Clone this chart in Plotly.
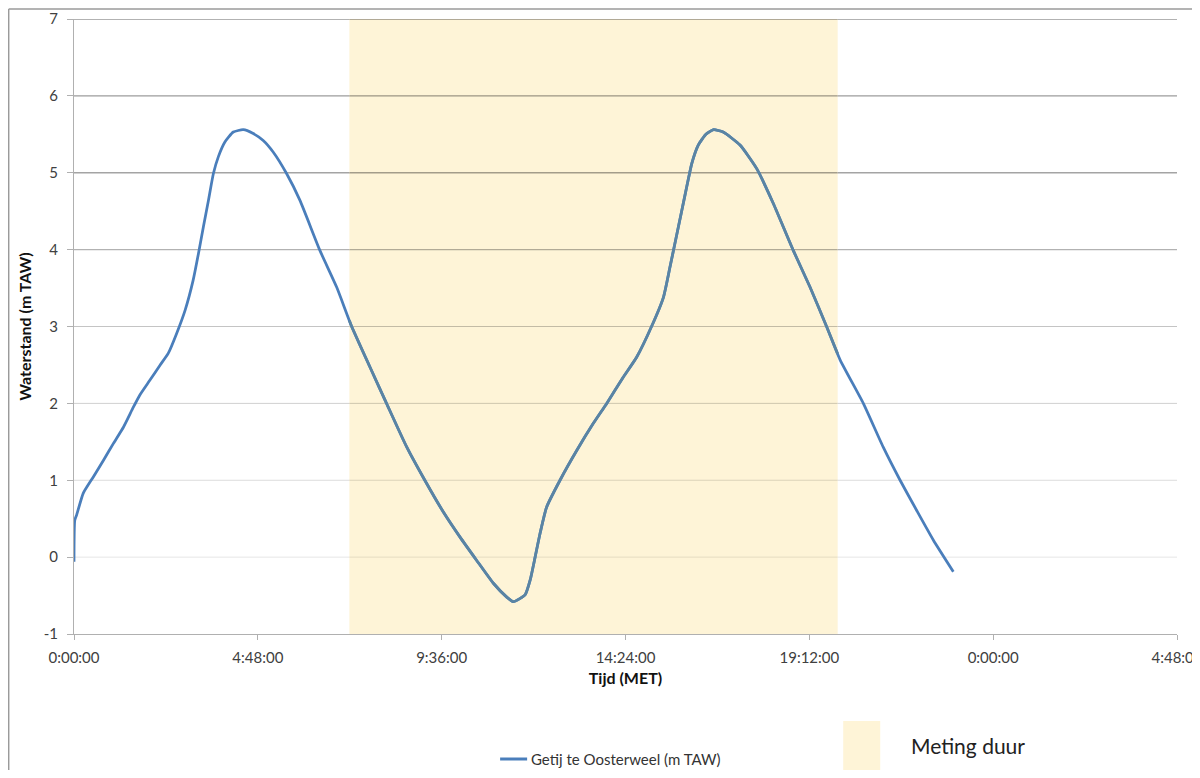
import plotly.graph_objects as go
import numpy as np

# ---------------- data ----------------
hours = [0.00, 0.02, 0.07, 0.24, 0.50, 0.77, 1.03, 1.29, 1.55, 1.72, 1.98, 2.25, 2.46, 2.68,
         2.90, 3.11, 3.25, 3.38, 3.51, 3.64, 3.77, 3.94, 4.16, 4.42, 4.68, 4.94, 5.20, 5.55,
         5.90, 6.42, 6.86, 7.25, 7.73, 8.16, 8.69, 9.16, 9.64, 10.08, 10.51, 10.95, 11.30,
         11.47, 11.64, 11.78, 11.91, 12.04, 12.17, 12.34, 12.69, 13.13, 13.56, 13.91, 14.34,
         14.69, 15.08, 15.39, 15.56, 15.69, 15.87, 16.00, 16.13, 16.30, 16.50, 16.70, 16.95,
         17.39, 17.83, 18.26, 18.78, 19.22, 19.65, 20.00, 20.61, 21.13, 21.57, 22.00, 22.44,
         22.96]
level = [-0.06, 0.48, 0.55, 0.83, 1.04, 1.26, 1.48, 1.69, 1.95, 2.11, 2.30, 2.50, 2.65, 2.91,
         3.21, 3.60, 3.95, 4.30, 4.64, 4.99, 5.21, 5.40, 5.53, 5.56, 5.51, 5.42, 5.27, 4.99,
         4.64, 3.99, 3.51, 3.00, 2.47, 2.00, 1.43, 1.00, 0.59, 0.26, -0.04, -0.34, -0.52,
         -0.58, -0.54, -0.49, -0.30, 0.00, 0.31, 0.65, 1.00, 1.39, 1.74, 2.00, 2.34,
         2.60, 3.00, 3.38, 3.77, 4.08, 4.51, 4.82, 5.12, 5.36, 5.50, 5.56, 5.53,
         5.36, 5.05, 4.60, 3.99, 3.51, 3.00, 2.57, 2.00, 1.43, 1.00, 0.61, 0.22,
         -0.19]
series_name = "Getij te Oosterweel (m TAW)"
meting_name = "Meting duur"
meting_start = 7.19   # hours
meting_end = 19.94    # hours

x_tickvals = [0, 4.8, 9.6, 14.4, 19.2, 24.0, 28.8]
x_ticktext = ["0:00:00", "4:48:00", "9:36:00", "14:24:00", "19:12:00", "0:00:00", "4:48:00"]
y_tickvals = [-1, 0, 1, 2, 3, 4, 5, 6, 7]
y_ticktext = [str(v) for v in y_tickvals]

x_title = "Tijd (MET)"
y_title = "Waterstand (m TAW)"

# ---------------- style ----------------
VW, VH = 1200, 778          # browser viewport
BODY = 8                    # default page margin around the plot div
W, H = VW - BODY, VH - 2 * BODY
PL, PR, PT, PB = 74, 1176.7, 19, 634   # plot area in viewport pixels
BLUE = "#4A7EBB"
BLUE_IN = "#5A84A3"
SHADE = "#FEF4D7"
AXIS = "#b0b0b0"
grid_colors = {0: "#e6e6e6", 1: "#dcdcdc", 2: "#d0d0d0", 3: "#c4c4c4",
               4: "#b2b2b2", 5: "#a4a4a4", 6: "#9c9c9c", 7: "#989898"}
FONT = "Lato"
LINE_SHAPE = dict(shape="spline", smoothing=0.5)
LEG_Y = 759


def px_x(px):
    return (px - PL) / (PR - PL)


def px_y(py):
    return (PB - py) / (PB - PT)


def tint(hexcol):
    h = hexcol.lstrip("#")
    r, g, b = (int(h[i:i + 2], 16) for i in (0, 2, 4))
    s = SHADE.lstrip("#")
    sr, sg, sb = (int(s[i:i + 2], 16) for i in (0, 2, 4))
    return "rgb(%d,%d,%d)" % (r * sr // 255, g * sg // 255, b * sb // 255)


fig = go.Figure()

# main line
fig.add_trace(go.Scatter(x=hours, y=level, mode="lines", name=series_name,
                         line=dict(color=BLUE, width=2.75, **LINE_SHAPE), showlegend=False))

# same line, portion inside the measurement window (drawn tinted)
xs_in = [meting_start] + [h for h in hours if meting_start < h < meting_end] + [meting_end]
ys_in = list(np.interp(xs_in, hours, level))
fig.add_trace(go.Scatter(x=xs_in, y=ys_in, mode="lines", showlegend=False, hoverinfo="skip",
                         line=dict(color=BLUE_IN, width=2.75, **LINE_SHAPE)))

shapes = []
# measurement window
shapes.append(dict(type="rect", xref="x", yref="y", x0=meting_start, x1=meting_end,
                   y0=-1, y1=7, fillcolor=SHADE, line=dict(width=0), layer="below"))
# grid lines
for v in y_tickvals[1:]:
    c = grid_colors[v]
    segs = [(0, meting_start, c), (meting_start, meting_end, tint(c)), (meting_end, 28.8, c)]
    for a, b, col in segs:
        shapes.append(dict(type="line", xref="x", yref="y", x0=a, x1=b, y0=v, y1=v,
                           line=dict(color=col, width=1.3 if v >= 4 else 1), layer="below"))
# outer frame
shapes.append(dict(type="line", xref="paper", yref="paper", x0=px_x(8.7), x1=px_x(1200),
                   y0=px_y(9), y1=px_y(9), line=dict(color="#9a9a9a", width=1.5)))
shapes.append(dict(type="line", xref="paper", yref="paper", x0=px_x(8.7), x1=px_x(8.7),
                   y0=px_y(9), y1=px_y(778), line=dict(color="#9a9a9a", width=1.5)))
# legend: line sample for the tide series
shapes.append(dict(type="line", xref="paper", yref="paper", x0=px_x(500), x1=px_x(527),
                   y0=px_y(LEG_Y), y1=px_y(LEG_Y), line=dict(color=BLUE, width=3)))
# legend swatch for measurement window
shapes.append(dict(type="rect", xref="paper", yref="paper", x0=px_x(843), x1=px_x(880),
                   y0=px_y(775), y1=px_y(721), fillcolor=SHADE, line=dict(width=0)))

fig.update_layout(
    width=W, height=H, autosize=False,
    margin=dict(l=PL - BODY, r=VW - PR, t=PT - BODY, b=(BODY + H) - PB, pad=0),
    paper_bgcolor="white", plot_bgcolor="white",
    font=dict(family=FONT, size=15, color="#404040"),
    shapes=shapes,
    showlegend=False,
    annotations=[
        dict(text=series_name, xref="paper", yref="paper", x=px_x(529), y=px_y(LEG_Y),
             xanchor="left", yanchor="middle", showarrow=False,
             font=dict(family=FONT, size=15, color="#333333")),
        dict(text=meting_name, xref="paper", yref="paper", x=px_x(909), y=px_y(745),
             xanchor="left", yanchor="middle", showarrow=False,
             font=dict(family=FONT, size=21, color="#222222")),
    ],
)

fig.update_xaxes(range=[0, 28.8], tickmode="array", tickvals=x_tickvals, ticktext=x_ticktext,
                 showgrid=False, zeroline=False, showline=True, linecolor=AXIS, linewidth=1,
                 ticks="outside", ticklen=5, tickcolor=AXIS, automargin=False,
                 ticklabelstandoff=5, ticklabeloverflow="allow",
                 tickfont=dict(size=15, color="#404040"),
                 title=dict(text="<b>%s</b>" % x_title, standoff=7,
                            font=dict(size=16, color="#111111")))
fig.update_yaxes(range=[-1, 7], tickmode="array", tickvals=y_tickvals, ticktext=y_ticktext,
                 showgrid=False, zeroline=False, showline=True, linecolor=AXIS, linewidth=1,
                 ticks="outside", ticklen=6, tickcolor=AXIS, automargin=False,
                 ticklabelstandoff=6,
                 tickfont=dict(size=15, color="#404040"),
                 title=dict(text="<b>%s</b>" % y_title, standoff=8,
                            font=dict(size=16, color="#111111")))

fig.write_html("out.html")
